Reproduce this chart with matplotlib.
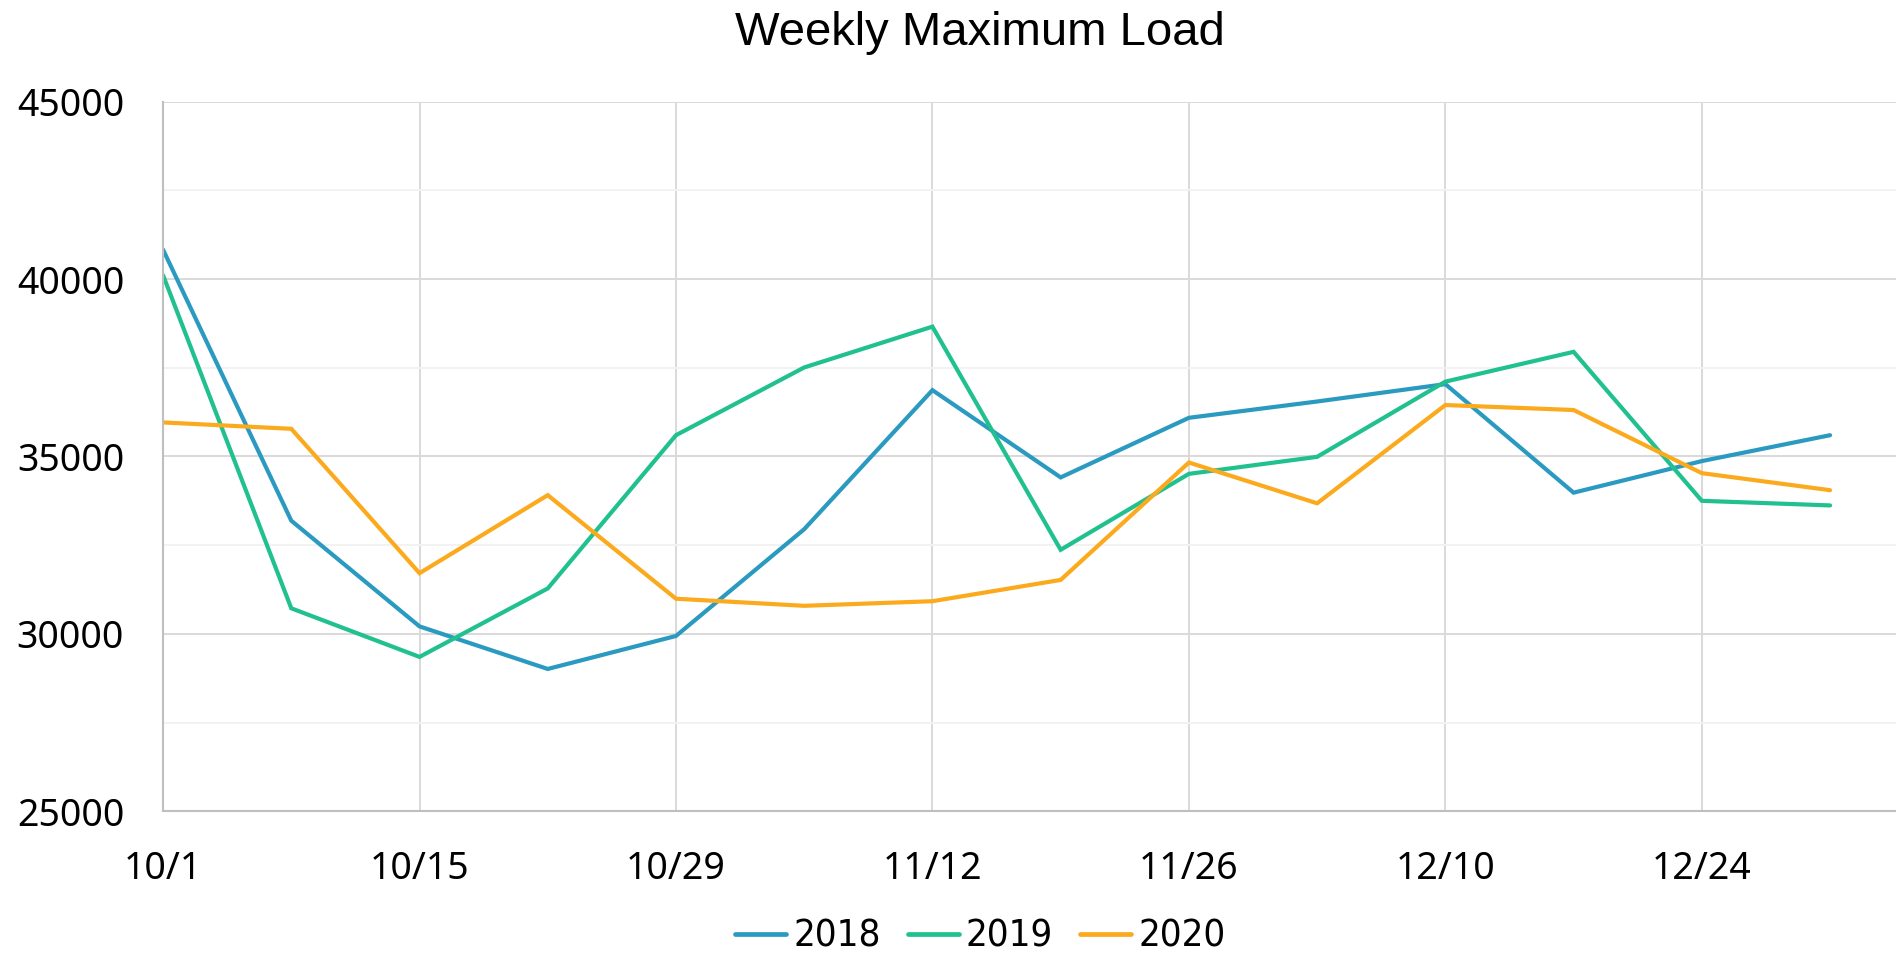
import matplotlib
matplotlib.use("Agg")
import matplotlib.pyplot as plt
from matplotlib import font_manager
from matplotlib.font_manager import FontProperties
from matplotlib.ticker import MultipleLocator

# ---- data ----
days = [0, 7, 14, 21, 28, 35, 42, 49, 56, 63, 70, 77, 84, 91]  # days after 10/1
tick_days = [0, 14, 28, 42, 56, 70, 84]
tick_labels = ["10/1", "10/15", "10/29", "11/12", "11/26", "12/10", "12/24"]
load_2018 = [40830, 33190, 30210, 29010, 29940, 32950, 36870, 34410, 36090, 36550, 37040, 33980, 34870, 35600]
load_2019 = [40110, 30720, 29350, 31280, 35600, 37510, 38660, 32370, 34510, 34990, 37110, 37950, 33750, 33620]
load_2020 = [35960, 35780, 31710, 33910, 30990, 30790, 30920, 31520, 34830, 33680, 36450, 36310, 34530, 34050]
series_names = ["2018", "2019", "2020"]
colors = ["#2A9AC0", "#20C08F", "#FCAA1D"]

available = {f.name for f in font_manager.fontManager.ttflist}
title_font = "Liberation Sans" if "Liberation Sans" in available else "DejaVu Sans"
tick_font = "Noto Sans" if "Noto Sans" in available else "DejaVu Sans"

# look for a condensed / narrow regular face for the legend
cond_file = None
for f in font_manager.fontManager.ttflist:
    fn = f.fname.lower()
    if ("condensed" in fn or "narrow" in fn) and f.style == "normal" and f.weight in (400, "normal", "regular") \
            and "bold" not in fn and "italic" not in fn and "light" not in fn and "oblique" not in fn:
        cond_file = f.fname
        break

if cond_file:
    leg_prop = FontProperties(fname=cond_file, size=27.5)
else:
    leg_prop = FontProperties(family=title_font, size=26)

fig = plt.figure(figsize=(18.96, 9.6), dpi=100)
ax = fig.add_axes([0.086, 0.155, 0.914, 0.739])

for vals, name, c in zip([load_2018, load_2019, load_2020], series_names, colors):
    ax.plot(days, vals, color=c, lw=3.0, label=name, solid_joinstyle="miter", solid_capstyle="round")

ax.set_xlim(0, 94.6)
ax.set_ylim(25000, 45000)
ax.set_xticks(tick_days)
ax.set_xticklabels(tick_labels)
ax.yaxis.set_major_locator(MultipleLocator(5000))
ax.yaxis.set_minor_locator(MultipleLocator(2500))

ax.grid(which="major", axis="both", color="#D9D9D9", lw=1.4, zorder=0)
ax.grid(which="minor", axis="y", color="#F2F2F2", lw=1.4, zorder=0)
ax.set_axisbelow(True)

for s in ["top", "right"]:
    ax.spines[s].set_visible(False)
for s in ["left", "bottom"]:
    ax.spines[s].set_color("#BFBFBF")
    ax.spines[s].set_linewidth(1.5)

ax.tick_params(axis="both", which="both", length=0)
ax.tick_params(axis="x", pad=28)
ax.tick_params(axis="y", pad=28)
for lab in ax.get_xticklabels() + ax.get_yticklabels():
    lab.set_fontfamily(tick_font)
    lab.set_fontsize(27)
    lab.set_color("#000000")

fig.text(0.517, 0.953, "Weekly Maximum Load", ha="center", va="baseline",
         fontsize=34, family=title_font, color="#000000")

leg = fig.legend(loc="center", bbox_to_anchor=(0.517, 0.024), ncol=3, frameon=False,
                 prop=leg_prop, handlelength=1.35,
                 handletextpad=0.18, columnspacing=0.7)
for line in leg.get_lines():
    line.set_linewidth(3.4)

fig.savefig("out.png", dpi=100)
